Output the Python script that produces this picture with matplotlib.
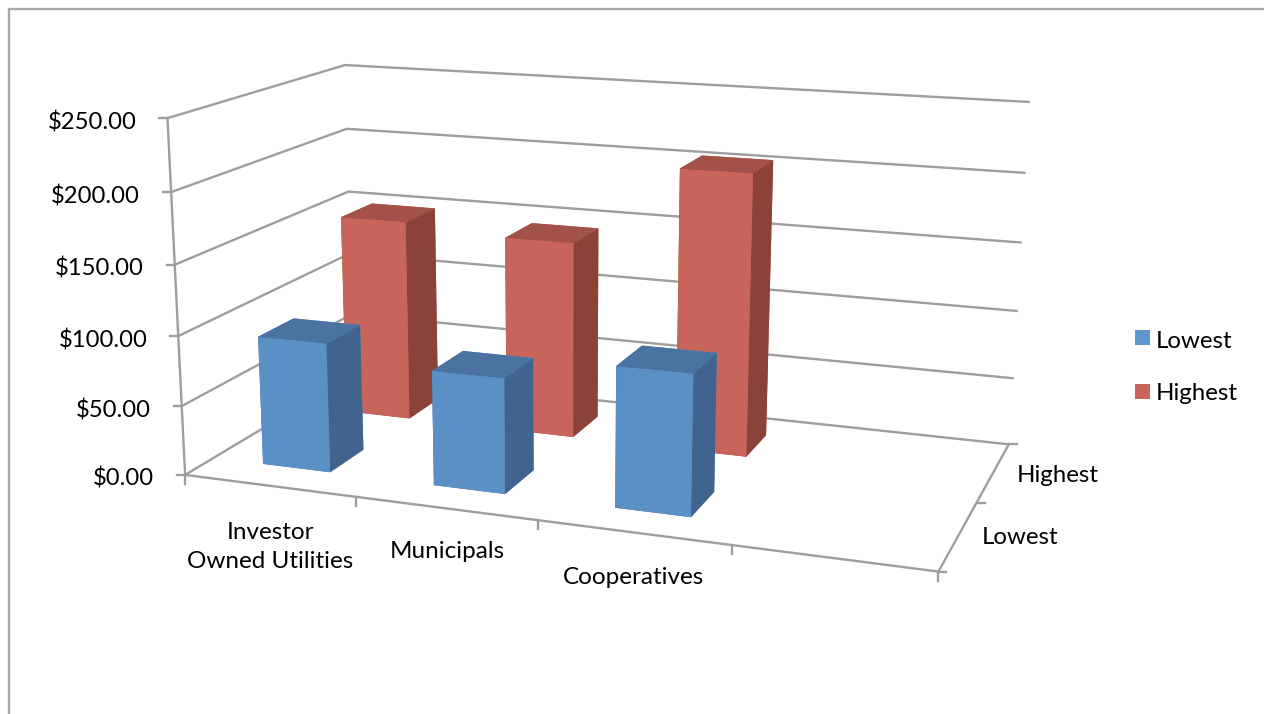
import numpy as np
import matplotlib
matplotlib.use('Agg')
import matplotlib.pyplot as plt
from matplotlib.patches import Rectangle

categories = ['Investor\nOwned Utilities', 'Municipals', 'Cooperatives', '']
series_names = ['Lowest', 'Highest']
lowest = [93, 81.5, 98]
highest = [151, 145.5, 205]
z_ticks = [0, 50, 100, 150, 200, 250]
z_labels = ['$0.00', '$50.00', '$100.00', '$150.00', '$200.00', '$250.00']

plt.rcParams['font.family'] = ['Lato', 'DejaVu Sans']
GRAY = '#9e9e9e'
W, H = 1264, 714
X_MAX = len(categories)

# box corners (x, y, z) and where they sit on the picture, used to fit the camera
box = [(0, 0, 0), (0, 0, 250), (0, 0, 200), (0, 2, 0), (0, 2, 250), (0, 2, 200), (X_MAX, 2, 0),
       (X_MAX, 2, 250), (X_MAX, 2, 100), (X_MAX, 0, 0), (1, 0, 0), (2, 0, 0), (3, 0, 0)]
pix = [(186, 473), (166.5, 118), (171, 192), (352, 375), (346, 65), (347, 129), (1009, 443),
       (1028, 102), (1017, 311), (938, 571), (357, 497), (538, 521), (732, 547)]

A, b = [], []
for (x, y, z), (u, v) in zip(box, pix):
    A.append([x, y, z, 1, 0, 0, 0, 0, -u * x, -u * y, -u * z])
    A.append([0, 0, 0, 0, x, y, z, 1, -v * x, -v * y, -v * z])
    b += [u, v]
p = np.linalg.lstsq(np.array(A, float), np.array(b, float), rcond=None)[0]
P = np.append(p, 1).reshape(3, 4)


def to_px(x, y, z):
    q = P @ np.array([x, y, z, 1.0])
    return q[0] / q[2], q[1] / q[2]


fig = plt.figure(figsize=(W / 100, H / 100), dpi=100)
ax = fig.add_axes([0, -0.385, 1, 1.77], projection='3d')
ax.set_axis_off()
ax.computed_zorder = False
ax.apply_aspect()

inv = ax.transData.inverted()
a0, b0 = inv.transform((0, H))
a1, b1 = inv.transform((W, 0))
sx, sy = (a1 - a0) / W, (b1 - b0) / H
M = np.vstack([sx * P[0] + a0 * P[2], sy * P[1] + b0 * P[2],
               -np.array([0, 0, 0, 1.0]), P[2]])
ax.get_proj = lambda: M

# walls and floor
for v in z_ticks:
    ax.plot([0, 0, X_MAX], [0, 2, 2], [v, v, v], color=GRAY, lw=1.7, zorder=1)
ax.plot([0, X_MAX, X_MAX], [0, 0, 2], [0, 0, 0], color=GRAY, lw=1.7, zorder=1)
ax.plot([0, 0], [0, 0], [0, 250], color=GRAY, lw=1.7, zorder=1)

gap_x, gap_y = 0.3, 0.3
cols = {'Lowest': ['#4b72a0', '#4b72a0', '#5b90c6', '#5b90c6', '#40648e', '#40648e'],
        'Highest': ['#a3524a', '#a3524a', '#c9645a', '#c9645a', '#8a4239', '#8a4239']}
for j, (name, vals) in reversed(list(enumerate(zip(series_names, [lowest, highest])))):
    xs = np.arange(len(vals)) + gap_x
    ys = np.full(len(vals), j + gap_y)
    ax.bar3d(xs, ys, np.zeros(len(vals)), 1 - 2 * gap_x, 1 - 2 * gap_y, vals,
             color=cols[name] * len(vals), shade=False, zorder=3 - j)

# flat overlay in picture pixels: frame, tick marks, labels, legend
ov = fig.add_axes([0, 0, 1, 1])
ov.set_xlim(0, W)
ov.set_ylim(H, 0)
ov.axis('off')
ov.plot([9, 9, W], [H, 9, 9], color='#a8a8a8', lw=1.7)

for v in z_ticks:
    u, w = to_px(0, 0, v)
    ov.plot([u - 8, u], [w, w], color=GRAY, lw=1.7)
    ov.text(u - 31, w + 4, z_labels[z_ticks.index(v)], ha='right', va='center', fontsize=17.2, color='black')
for i in range(X_MAX + 1):
    u, w = to_px(i, 0, 0)
    ov.plot([u, u], [w, w + 9], color=GRAY, lw=1.7)
for j in range(len(series_names) + 1):
    u, w = to_px(X_MAX, j, 0)
    ov.plot([u, u + 8], [w, w], color=GRAY, lw=1.7)

ov.text(270.5, 547, categories[0], ha='center', va='center', fontsize=17.5, multialignment='center', linespacing=1.5)
ov.text(447, 551, categories[1], ha='center', va='center', fontsize=17.5)
ov.text(634, 577, categories[2], ha='center', va='center', fontsize=17.5)
ov.text(1017, 475, series_names[1], ha='left', va='center', fontsize=17.3)
ov.text(982, 538, series_names[0], ha='left', va='center', fontsize=17.3)

for name, c, ty in zip(series_names, ['#5e95cc', '#ca635d'], [340, 393]):
    ov.add_patch(Rectangle((1135, ty - 10 + (ty > 350)), 15, 15, facecolor=c, edgecolor='none'))
    ov.text(1156, ty + 1, name, ha='left', va='center', fontsize=17.3)

fig.savefig('out.png', dpi=100)
